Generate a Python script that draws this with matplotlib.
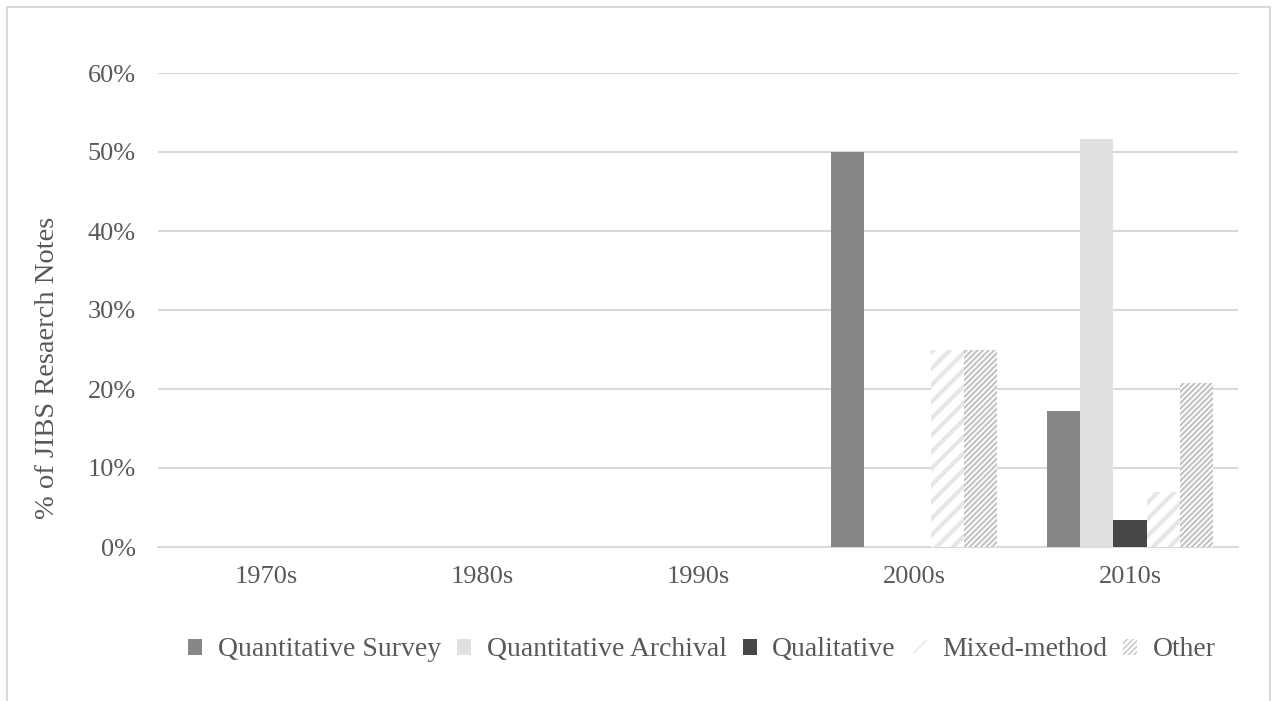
import matplotlib
matplotlib.use("Agg")
import matplotlib.pyplot as plt
from matplotlib.patches import Rectangle
from matplotlib.ticker import FuncFormatter
import numpy as np

decades = ["1970s", "1980s", "1990s", "2000s", "2010s"]
survey = [0.0, 0.0, 0.0, 0.50, 0.172]
archival = [0.0, 0.0, 0.0, 0.0, 0.517]
qualitative = [0.0, 0.0, 0.0, 0.0, 0.034]
mixed = [0.0, 0.0, 0.0, 0.25, 0.069]
other = [0.0, 0.0, 0.0, 0.25, 0.207]
series_names = ["Quantitative Survey", "Quantitative Archival", "Qualitative",
                "Mixed-method", "Other"]
y_ticks = [0.0, 0.1, 0.2, 0.3, 0.4, 0.5, 0.6]

plt.rcParams["font.family"] = ["Liberation Serif", "DejaVu Serif"]
TEXT = "#595959"
GRID = "#d9d9d9"

fig = plt.figure(figsize=(12.73, 7.01), dpi=100)
fig.patch.set_facecolor("white")
fig.patches.append(Rectangle((7, -20), 1263, 714, transform=None, fill=False,
                             edgecolor=GRID, linewidth=1.5))

ax = fig.add_axes([158 / 1273, 1 - 547 / 701, 1080 / 1273, (547 - 73) / 701])

x = np.arange(len(decades))
w = 0.153
styles = [
    dict(color="#878787"),
    dict(color="#e0e0e0"),
    dict(color="#474747"),
    dict(facecolor="white", edgecolor="#e6e6e6", hatch="//", hlw=3.0),
    dict(facecolor="white", edgecolor="#c2c2c2", hatch="//////", hlw=1.5),
]
data = [survey, archival, qualitative, mixed, other]
handles = []
for i, (vals, st) in enumerate(zip(data, styles)):
    st = dict(st)
    hlw = st.pop("hlw", None)
    if hlw is not None:
        with plt.rc_context({"hatch.linewidth": hlw}):
            bars = ax.bar(x + (i - 2) * w, vals, width=w, linewidth=0,
                          label=series_names[i], zorder=3, **st)
            for b in bars:
                if hasattr(b, "set_hatch_linewidth"):
                    b.set_hatch_linewidth(hlw)
    else:
        bars = ax.bar(x + (i - 2) * w, vals, width=w, linewidth=0,
                      label=series_names[i], zorder=3, **st)
    handles.append(bars)

ax.set_xlim(-0.5, len(decades) - 0.5)
ax.set_ylim(0, 0.6)
ax.set_yticks(y_ticks)
ax.yaxis.set_major_formatter(FuncFormatter(lambda v, p: f"{v * 100:.0f}%"))
ax.set_xticks(x)
ax.set_xticklabels(decades)
ax.tick_params(axis="both", length=0, labelsize=19, labelcolor=TEXT)
ax.tick_params(axis="y", pad=16)
ax.tick_params(axis="x", pad=14)
ax.grid(axis="y", color=GRID, linewidth=1.5, zorder=0)
for side in ["top", "right", "left"]:
    ax.spines[side].set_visible(False)
ax.spines["bottom"].set_color(GRID)
ax.spines["bottom"].set_linewidth(1.5)

fig.text(48 / 1273, 1 - 368 / 701, "% of JIBS Resaerch Notes", rotation=90,
         ha="center", va="center", fontsize=20.5, color=TEXT)

leg = fig.legend(handles=handles, labels=series_names, loc="center",
                 bbox_to_anchor=(702 / 1273, 1 - 650 / 701), ncol=5, frameon=False,
                 fontsize=20, handlelength=0.5, handleheight=0.5,
                 handletextpad=0.55, columnspacing=0.6, labelcolor=TEXT)

fig.savefig("out.png", dpi=100, facecolor="white")
